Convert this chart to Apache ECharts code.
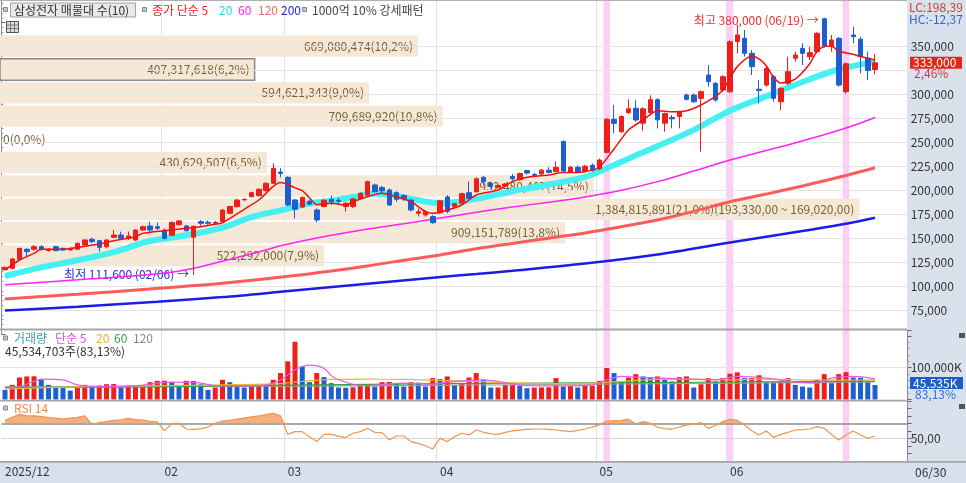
<!DOCTYPE html>
<html>
<head>
<meta charset="utf-8">
<title>삼성전자 매물대</title>
<script src="https://cdn.jsdelivr.net/npm/echarts@6.0.0/dist/echarts.min.js"></script>
<style>
html,body{margin:0;padding:0;background:#fff;}
#chart{width:966px;height:483px;}
</style>
</head>
<body>
<div id="chart"></div>
<script>
// ---------------- data ----------------
const dates = ['12/30',
'01/02','01/05','01/06','01/07','01/08','01/09','01/12','01/13','01/14','01/15','01/16','01/19','01/20','01/21','01/22','01/23','01/26','01/27','01/28','01/29','01/30',
'02/02','02/03','02/04','02/05','02/06','02/09','02/10','02/11','02/12','02/13','02/19','02/20','02/23','02/24','02/25','02/26','02/27',
'03/03','03/04','03/05','03/06','03/09','03/10','03/11','03/12','03/13','03/16','03/17','03/18','03/19','03/20','03/23','03/24','03/25','03/26','03/27','03/30','03/31',
'04/01','04/02','04/03','04/06','04/07','04/08','04/09','04/10','04/13','04/14','04/15','04/16','04/17','04/20','04/21','04/22','04/23','04/24','04/27','04/28','04/29','04/30',
'05/04','05/06','05/07','05/08','05/11','05/12','05/13','05/14','05/15','05/18','05/19','05/20','05/21','05/22','05/26','05/27','05/28','05/29',
'06/01','06/02','06/04','06/05','06/08','06/09','06/10','06/11','06/12','06/15','06/16','06/17','06/18','06/19','06/22','06/23','06/24','06/25','06/26','06/29','06/30'];

const openP = [117000,118500,127900,138400,138400,141100,137000,141100,139400,137700,
138400,142900,148800,147400,141100,150900,153300,149900,148100,158500,
162700,162000,158500,153000,164000,162700,151000,167200,166600,165500,
167200,176000,182900,190000,193300,194400,199600,207200,219000,213500,
189800,182500,188500,179500,183000,190500,189500,183000,183000,191500,
195000,205500,203000,200300,197500,194400,189800,176000,174200,172500,
176500,193000,183000,186500,197500,198500,213500,207000,203000,204500,
214500,211000,220500,216500,217000,221000,219500,251000,219000,224000,
219500,226000,222500,239500,274000,261000,281000,285500,270000,281000,
294500,270000,276000,277000,299400,299400,295900,320300,311600,304600,
302900,355000,358500,342900,305500,309800,318500,292400,311600,337700,
348100,339400,344600,379000,350500,358500,303000,362000,357500,337700,
326000];
const closeP = [119500,128300,139400,136000,141100,138400,138400,137000,137700,139400,
144600,148100,146400,140400,148100,153300,149900,152300,158500,162000,
158500,160300,149800,166500,168000,157800,162500,165500,165500,166500,
179400,183000,189800,190500,197500,201000,207200,222900,217500,184600,
180100,192500,185500,169000,189500,188000,188500,186500,191000,196800,
209000,198500,199500,184600,190500,191600,179400,177700,177700,166200,
189000,178000,186000,196500,191500,212000,209000,204000,205000,206500,
212000,217500,218000,215500,221000,218500,224000,220000,224000,219500,
225000,221000,231500,274000,269800,277000,285000,273300,285000,294500,
273500,280000,274500,282000,294900,292400,302900,313300,294200,318500,
355000,362000,342900,329000,304000,327200,295900,306300,323700,341100,
342900,343600,363700,350500,356800,309800,332000,360300,339400,325000,
333000];
const lowP = [116500,117500,127000,130700,137000,137000,136000,136300,136500,136800,
137500,142000,144600,136000,139400,149900,148100,148100,147000,157500,
156800,158500,148500,152000,163000,156800,111600,163000,164000,164500,
166500,175000,182000,189000,192500,193500,198500,206500,213500,183500,
170700,181500,184500,166500,182000,184600,186000,177700,181500,190500,
194000,197500,196500,183500,188000,189000,178000,172500,172500,165000,
175500,176000,182000,185500,190500,197500,205000,202000,202000,203500,
210000,210000,216500,213500,216000,217500,218500,218500,218000,218500,
218500,219500,221000,238500,259400,260000,279500,271500,262000,279000,
264500,261000,264600,264600,293500,291000,240300,308100,292500,303000,
301500,342900,339400,320300,290700,308000,292400,283700,309800,334200,
330700,335900,343000,349000,344600,308000,300500,353300,322000,315000,
321000];
const highP = [120500,129500,140000,139400,142900,142900,139400,142000,140000,140200,
145500,149000,150500,148100,148800,158500,156800,156800,159500,163000,
167200,166200,160000,167500,169000,163800,163000,169000,168500,168000,
180500,184000,191000,191500,198500,202000,208500,228100,223000,214500,
191000,193500,190000,181000,191000,194400,192000,187500,192000,197800,
210000,207000,204500,202000,199000,196000,191000,181000,179000,174000,
190000,195000,187000,197500,209000,213500,215000,209000,206000,207500,
217000,218500,221500,218000,222000,224000,230000,252000,225500,226000,
226500,228000,233000,275500,289000,278000,295000,294000,286500,299000,
296000,281000,278500,283000,301000,301000,304000,330700,313000,320000,
356500,372400,367200,346300,315000,329000,320300,307500,339400,344600,
353300,349800,365000,380000,362000,360000,333500,370700,360300,344600,
342000];

// volume in thousands of shares (K)
const volumeK = [30200,46000,69300,72500,73000,62000,46000,38000,37500,28000,
37600,46000,40800,44000,48100,48500,37600,44000,44500,45000,
54500,58700,59000,54500,43900,58700,58000,48100,30200,37600,
61900,54500,43900,37600,43900,46000,45000,61900,83100,120100,
181500,104300,54500,83100,70400,51300,37600,37000,38500,48100,
48500,40800,54500,55000,51300,40800,54500,53000,40800,67200,
64000,72500,46000,51300,69300,83100,61900,37600,38000,46000,
46500,43900,35600,37600,38000,38500,67200,40800,42900,37600,
42900,43500,58700,99000,83100,54500,69300,79700,72500,69300,
72500,67200,56600,70400,72500,37600,48100,67200,56600,67200,
81000,85300,67200,67500,76100,54500,54000,54500,67200,46000,
40800,37600,61900,79700,51300,79700,86000,69300,68500,54776,
45534.703];

const rsi14 = [74,78,82,80,80,79,77.5,77,75.5,77,
78,80,68.7,71,72.2,74,74.5,76.5,75,74.4,
72.5,72,59.8,69.6,70,62.4,62,62.5,65,70,
73,74,75.5,77,78.5,80,81.5,83.3,80,55,
58.9,58.9,52,45.6,55.3,55.3,53,51,56.7,58.9,
63.3,58,57.5,47.8,53.1,53.1,45.6,43.3,40,35.8,
50,45.6,52,56.7,54.5,61.1,58,56,55.3,58,
59.8,61,62,62.4,62.4,62,61.1,60,58.9,60.5,
62.4,65,67.8,73.1,73.5,74,75.3,69.1,72.2,70,
64.7,63,62,65,67.8,69,70.9,63.3,67,72.2,
75.3,74,67.8,60,54.5,59.8,51.3,55.3,58,61.1,
61.5,62.4,65.5,63.3,55,47.8,54.5,59.8,54.5,50,53.1];

// moving-average lines: [day index, value]
const ma5Pts = [[0,116800],[2,127200],[4,134200],[5,138400],[8,138400],[10,140500],[13,143900],[15,147400],[18,151500],[19,155000],[22,157800],[25,160300],[27,162000],[29,164500],[30,166000],[33,180100],[35,189800],[37,204000],[38,208000],[39,206000],[40,202500],[41,199500],[42,192000],[43,185000],[45,186400],[47,184600],[48,188100],[50,193300],[52,196800],[54,193300],[56,188100],[58,177700],[59,175900],[60,177000],[63,184600],[65,195000],[68,200300],[70,209000],[72,213500],[75,215900],[77,218400],[79,218400],[81,221000],[82,224000],[84,243000],[86,262900],[88,273300],[90,283000],[92,282000],[94,283000],[96,289000],[98,298000],[99,304300],[100,317000],[101,329000],[103,340000],[104,337000],[105,330000],[106,318000],[107,312000],[109,316000],[111,332000],[112,345000],[113,350000],[114,350500],[115,345000],[117,342000],[118,339500],[120,336000]];
const ma20Pts = [[0,110500],[5,119500],[10,127000],[15,135500],[20,147000],[25,153000],[30,161000],[34,172000],[38,179000],[42,186000],[45,189000],[48,193000],[51,196500],[54,194000],[57,189500],[60,186500],[65,191000],[70,199000],[75,206000],[80,214000],[83,223000],[86,233000],[90,246000],[95,263000],[100,283000],[105,298000],[110,313000],[115,326000],[120,334000]];
const ma60Pts = [[0,101500],[10,106500],[20,112000],[25,117000],[30,126000],[35,135500],[38,142000],[45,153000],[50,159500],[55,165000],[60,171000],[65,177000],[70,182500],[75,187500],[80,193000],[85,200000],[90,209000],[95,220000],[100,231500],[105,241500],[110,251500],[116,265000],[120,276000]];
const ma120Pts = [[0,86500],[10,91500],[20,97000],[30,103000],[40,111000],[50,121000],[55,127000],[60,132500],[65,139000],[70,144500],[75,150000],[80,155500],[85,162000],[90,169000],[95,178000],[100,188000],[105,196000],[110,204500],[115,213500],[120,223500]];
const ma200Pts = [[0,74400],[10,78500],[21,83700],[30,88500],[38,94000],[50,102500],[59,108800],[65,112600],[70,116000],[80,123500],[90,133000],[100,145500],[110,157500],[116,165000],[120,171300]];

const volMa5Pts = [[0,36000],[2,41000],[4,56600],[5,64000],[8,61900],[10,46000],[13,40800],[18,43000],[21,51300],[23,54500],[27,51300],[29,43000],[32,43000],[36,46000],[38,61900],[40,93400],[42,108000],[44,98000],[45,75000],[46,62000],[48,48000],[50,44000],[55,51300],[59,48000],[61,54500],[66,61900],[68,56600],[72,43900],[77,43000],[81,46000],[83,61900],[85,72500],[88,69300],[93,65000],[98,61900],[101,72500],[105,67200],[109,54500],[112,51300],[114,67200],[117,72500],[120,65000]];
const volMa20Pts = [[0,33000],[10,40000],[20,43000],[30,46000],[38,50000],[40,55000],[45,63000],[50,64000],[55,63000],[60,60000],[65,57000],[70,52000],[75,50000],[80,51000],[85,57000],[90,63000],[95,64000],[100,62000],[105,64000],[110,62000],[115,61000],[120,62000]];
const volMa60Pts = [[0,38000],[20,40000],[40,45000],[60,50000],[80,52000],[100,55000],[120,58000]];
const volMa120Pts = [[0,40000],[40,42000],[80,48000],[120,55000]];

// volume profile (매물대) rows, top to bottom
const profileHigh = [363500,339190,314880,290570,266260,241950,217640,193330,169020,144710];
const profileLow  = [339190,314880,290570,266260,241950,217640,193330,169020,144710,120400];
const profileAmount = [669080474,407317618,594621343,709689920,0,430629507,952480407,1384815891,909151789,522292000];
const profilePct = [10.2,6.2,9.0,10.8,0.0,6.5,14.5,21.0,13.8,7.9];

// ticks / labels
const priceTicks = [75000,100000,125000,150000,175000,200000,225000,250000,275000,300000,325000,350000];
const monthTickIdx = [22,39,60,82,100];
const axisLabelIdx = [0,22,39,60,82,100];
const axisLabelText = ['2025/12','02','03','04','05','06'];
const strongDays = ['05/06','06/01','06/24'];   // 1000억 10% 강세패턴
const lcText = 'LC:198,39';
const hcText = 'HC:-12,37';

// ---------------- build ----------------
const FONT = '"Noto Sans CJK KR","Noto Sans",sans-serif';
const UP = '#ee1f1b', DOWN = '#1d5fd2';
const N = dates.length;
const cats = dates.concat([' ', '  ', '   ', '    ']);
const fmt = v => Math.round(v).toLocaleString('en-US');
const dec = (v, d) => v.toFixed(d).replace('.', ',');

const lastClose = closeP[N - 1], prevClose = closeP[N - 2];
const chgPct = (lastClose / prevClose - 1) * 100;
const lastVol = volumeK[N - 1], prevVol = volumeK[N - 2];
const volRatio = lastVol / prevVol * 100;
let iMax = 0, iMin = 0;
highP.forEach((v, i) => { if (v > highP[iMax]) iMax = i; });
lowP.forEach((v, i) => { if (v < lowP[iMin]) iMin = i; });
let iPoc = 0; profilePct.forEach((p, k) => { if (p > profilePct[iPoc]) iPoc = k; });
const iCur = profileHigh.findIndex((h, k) => lastClose <= h && lastClose > profileLow[k]);

const GL = 1.375, GW = 906.25;
const gridBase = {left: GL, width: GW, outerBoundsMode: 'none', containLabel: false};
const RSI_MIN = 20, RSI_MAX = 100, RSI_TOP = 400.8, RSI_H = 60, OB = 70;
const obOff = (RSI_MAX - OB) / (RSI_MAX - RSI_MIN);

function bandRender(params, api) {
  const c = api.coord([api.value(0), api.value(1)]);
  const w = api.size([1, 0])[0];
  const cs = params.coordSys;
  return {type: 'rect', shape: {x: c[0] - w * 0.45, y: cs.y, width: w * 0.9, height: cs.height},
          style: {fill: '#fccff5'}};
}
function catAxis(grid, showLabel) {
  return {
    type: 'category', gridIndex: grid, data: cats, boundaryGap: true,
    axisLine: {show: false}, axisTick: {show: false},
    axisLabel: showLabel ? {
      show: true, interval: (i) => axisLabelIdx.includes(i),
      formatter: (v, i) => { const k = axisLabelIdx.indexOf(i); return k >= 0 ? axisLabelText[k] : ''; },
      align: 'left', color: '#333', fontSize: 12, fontFamily: FONT, margin: 5
    } : {show: false},
    splitLine: {show: true, interval: (i) => monthTickIdx.includes(i), lineStyle: {color: '#e2e2e2', width: 1}}
  };
}
const axisStyle = {
  position: 'right',
  axisLine: {show: true, lineStyle: {color: '#8c8c8c'}},
  axisTick: {show: true, length: 4, lineStyle: {color: '#666'}},
  minorTick: {show: true, splitNumber: 5, length: 2, lineStyle: {color: '#999'}},
  splitLine: {show: false}
};
function maLine(pts, color, width, z, smooth) {
  return {type: 'line', xAxisIndex: 0, yAxisIndex: 0, data: pts, symbol: 'none', smooth: smooth,
          silent: true, zlevel: 1, z: z, lineStyle: {color: color, width: width}};
}
function volLine(pts, color) {
  return {type: 'line', xAxisIndex: 2, yAxisIndex: 1, data: pts, symbol: 'none', smooth: 0.3,
          silent: true, zlevel: 1, z: 3, lineStyle: {color: color, width: 1.2}};
}

const series = [
  // 0 pink bands (main)
  {type: 'custom', xAxisIndex: 0, yAxisIndex: 0, zlevel: 0, z: 1, silent: true, renderItem: bandRender,
   encode: {x: 0, y: 1}, data: strongDays.map(d => [d, 100000])},
  // 1 horizontal grid lines (main)
  {type: 'line', xAxisIndex: 0, yAxisIndex: 0, data: [], zlevel: 0, z: 0, silent: true,
   markLine: {silent: true, symbol: 'none', animation: false, label: {show: false},
              lineStyle: {color: '#e3e3e3', width: 1, type: 'solid'},
              data: priceTicks.map(v => ({yAxis: v}))}},
  // 2 volume profile
  {type: 'custom', xAxisIndex: 1, yAxisIndex: 0, zlevel: 0, z: 2, silent: true,
   data: profilePct.map((p, k) => [p, profileHigh[k], profileLow[k]]),
   encode: {x: 0, y: [1, 2]},
   renderItem: function (params, api) {
     const k = params.dataIndex;
     const tl = api.coord([0, profileHigh[k]]);
     const br = api.coord([profilePct[k], profileLow[k]]);
     const x0 = params.coordSys.x - GL;
     const y0 = tl[1] + 2, h = br[1] - tl[1] - 2;
     const kids = [];
     let label = fmt(profileAmount[k]) + '(' + dec(profilePct[k], 1) + '%)';
     if (k === iPoc) label += '(' + fmt(profileHigh[k]) + ',00 ~ ' + fmt(profileLow[k]) + ',00)';
     if (profilePct[k] > 0) {
       kids.push({type: 'rect', shape: {x: x0, y: y0, width: br[0] - x0, height: h},
                  style: {fill: '#f6e8d6', stroke: k === iCur ? '#8a8a8a' : null, lineWidth: 1.5}});
       kids.push({type: 'text', x: br[0] - 5, y: y0 + h / 2,
                  style: {text: label, fill: '#78632f', font: '12px ' + FONT, align: 'right', verticalAlign: 'middle'}});
     } else {
       kids.push({type: 'text', x: x0 + 3, y: y0 + h / 2,
                  style: {text: label, fill: '#78632f', font: '12px ' + FONT, align: 'left', verticalAlign: 'middle'}});
     }
     return {type: 'group', children: kids};
   }},
  // 3-6 long moving averages
  maLine(ma200Pts, '#1c1ce6', 2.5, 3, 0.3),
  maLine(ma120Pts, '#ff5b5b', 3, 3, 0.3),
  maLine(ma60Pts, '#ff22f2', 1.5, 3, 0.4),
  maLine(ma20Pts, '#44f0f2', 6, 3, 0.4),
  // 7 candles
  {type: 'candlestick', xAxisIndex: 0, yAxisIndex: 0, zlevel: 1, z: 4, barWidth: 5, silent: true,
   data: openP.map((o, i) => [o, closeP[i], lowP[i], highP[i]]),
   itemStyle: {color: UP, color0: DOWN, borderColor: UP, borderColor0: DOWN, borderWidth: 1},
   markPoint: {symbol: 'circle', symbolSize: 1, silent: true, animation: false,
     itemStyle: {color: 'rgba(0,0,0,0)'},
     data: [
       {coord: [dates[iMax], highP[iMax]],
        label: {show: true, position: 'left', distance: 5, offset: [0, 3], color: '#ee3030', fontSize: 12, fontFamily: FONT,
                formatter: '최고 ' + fmt(highP[iMax]) + ' (' + dates[iMax] + ') →'}},
       {coord: [dates[iMin], lowP[iMin]],
        label: {show: true, position: 'left', distance: 4, offset: [0, -1], color: '#2530d8', fontSize: 12, fontFamily: FONT,
                formatter: '최저 ' + fmt(lowP[iMin]) + ' (' + dates[iMin] + ') →'}}
     ]}},
  // 8 MA5
  maLine(ma5Pts, '#ee1111', 1.5, 5, 0.25),
  // 9 pink bands (volume)
  {type: 'custom', xAxisIndex: 2, yAxisIndex: 1, zlevel: 0, z: 1, silent: true, renderItem: bandRender,
   encode: {x: 0, y: 1}, data: strongDays.map(d => [d, 10000])},
  // 10 volume grid line
  {type: 'line', xAxisIndex: 2, yAxisIndex: 1, data: [], zlevel: 0, z: 0, silent: true,
   markLine: {silent: true, symbol: 'none', animation: false, label: {show: false},
              lineStyle: {color: '#e3e3e3', width: 1, type: 'solid'}, data: [{yAxis: 100000}]}},
  // 11 volume bars
  {type: 'bar', xAxisIndex: 2, yAxisIndex: 1, zlevel: 1, z: 2, barWidth: 5, silent: true,
   data: volumeK.map((v, i) => ({value: v, itemStyle: {color: (i > 0 && v > volumeK[i - 1]) ? UP : DOWN}}))},
  // 12-15 volume MAs
  volLine(volMa120Pts, '#a0a0a0'),
  volLine(volMa60Pts, '#2ea24a'),
  volLine(volMa20Pts, '#f2b236'),
  volLine(volMa5Pts, '#ea5be6'),
  // 16 pink bands (rsi)
  {type: 'custom', xAxisIndex: 3, yAxisIndex: 2, zlevel: 0, z: 1, silent: true, renderItem: bandRender,
   encode: {x: 0, y: 1}, data: strongDays.map(d => [d, 60])},
  // 17 rsi reference lines
  {type: 'line', xAxisIndex: 3, yAxisIndex: 2, data: [], zlevel: 0, z: 0, silent: true,
   markLine: {silent: true, symbol: 'none', animation: false, label: {show: false},
              data: [{yAxis: OB, lineStyle: {color: '#8e8e8e', width: 1.5, type: 'solid'}},
                     {yAxis: 50, lineStyle: {color: '#d6d6d6', width: 1, type: 'solid'}}]}},
  // 18 rsi overbought fill (only the part above 70 is coloured)
  {type: 'line', xAxisIndex: 3, yAxisIndex: 2, data: rsi14, zlevel: 1, z: 2, symbol: 'none', silent: true,
   lineStyle: {width: 0, opacity: 0},
   areaStyle: {origin: 'start', opacity: 1, color: {type: 'linear', x: 0, y: RSI_TOP, x2: 0, y2: RSI_TOP + RSI_H, global: true,
     colorStops: [{offset: 0, color: '#f5b07e'}, {offset: obOff, color: '#f5b07e'},
                  {offset: obOff + 0.001, color: 'rgba(245,176,126,0)'}, {offset: 1, color: 'rgba(245,176,126,0)'}]}}},
  // 19 rsi line
  {type: 'line', xAxisIndex: 3, yAxisIndex: 2, data: rsi14, zlevel: 1, z: 3, symbol: 'none', silent: true,
   lineStyle: {color: '#f39350', width: 1.2}}
];

function t(x, y, text, fill, extra) {
  return Object.assign({type: 'text', zlevel: 2, z: 60, x: x, y: y,
    style: {text: text, fill: fill, font: '12px ' + FONT, verticalAlign: 'middle'}}, extra || {});
}
function icon(x, y) {
  return {type: 'rect', zlevel: 2, z: 60, shape: {x: x, y: y, width: 4, height: 4},
          style: {fill: '#c4c4c4', stroke: '#8a8a8a', lineWidth: 1}};
}
function bar(x, y, w, h, fill) {
  return {type: 'rect', zlevel: 2, z: 55, shape: {x: x, y: y, width: w, height: h}, style: {fill: fill}};
}
const graphic = [
  {type: 'rect', zlevel: 0, z: -10, shape: {x: 907, y: 0, width: 59, height: 483}, style: {fill: '#d9e2ec'}},
  {type: 'rect', zlevel: 0, z: -10, shape: {x: 0, y: 462, width: 966, height: 21}, style: {fill: '#d6e0ee'}},
  bar(0, 0, 907, 1, '#b0b0b0'),
  bar(0, 328.6, 907, 2, '#a6a6a6'),
  bar(0, 399.8, 907, 1.8, '#a6a6a6'),
  bar(0, 460.9, 966, 1.8, '#a6a6a6'),
  // main legend
  icon(3.5, 7.5),
  {type: 'rect', zlevel: 2, z: 58, shape: {x: 10.5, y: 3, width: 125, height: 14}, style: {fill: '#e9e9e9', stroke: '#a3a3a3', lineWidth: 1}},
  t(14, 10.5, '삼성전자 매물대 수(10)', '#333'),
  icon(142.5, 7.5),
  t(152, 10.5, '종가 단순 5', '#ee2222'),
  t(219, 10.5, '20', '#20dcea'),
  t(238, 10.5, '60', '#ff22f2'),
  t(258, 10.5, '120', '#ff6666'),
  t(281, 10.5, '200', '#2424dd'),
  icon(302.5, 7.5),
  t(312, 10.5, '1000억 10% 강세패턴', '#444'),
  // grid icon
  {type: 'rect', zlevel: 2, z: 58, shape: {x: 6.5, y: 21.5, width: 12, height: 11}, style: {fill: '#dcdcdc', stroke: '#555', lineWidth: 1}},
  {type: 'polyline', zlevel: 2, z: 59, shape: {points: [[7, 25], [18, 25]]}, style: {stroke: '#777', lineWidth: 1}},
  {type: 'polyline', zlevel: 2, z: 59, shape: {points: [[7, 28.5], [18, 28.5]]}, style: {stroke: '#777', lineWidth: 1}},
  {type: 'polyline', zlevel: 2, z: 59, shape: {points: [[10.5, 22], [10.5, 32]]}, style: {stroke: '#777', lineWidth: 1}},
  {type: 'polyline', zlevel: 2, z: 59, shape: {points: [[14.5, 22], [14.5, 32]]}, style: {stroke: '#777', lineWidth: 1}},
  // right top texts
  t(909, 7.5, lcText, '#e03434'),
  t(909, 19.5, hcText, '#3565d0'),
  // volume legend
  icon(3.5, 336),
  t(14, 338.5, '거래량', '#36a3a3'),
  t(55, 338.5, '단순 5', '#e84ee4'),
  t(96, 338.5, '20', '#f0ae2a'),
  t(114, 338.5, '60', '#2e9e4a'),
  t(133, 338.5, '120', '#888'),
  t(5, 351, fmt(lastVol * 1000) + '주(' + dec(volRatio, 2) + '%)', '#333'),
  {type: 'rect', zlevel: 2, z: 60, shape: {x: 959, y: 333, width: 6, height: 5}, style: {fill: '#555'}},
  // rsi legend
  icon(3.5, 406),
  t(14, 408.5, 'RSI 14', '#f3894a'),
  {type: 'rect', zlevel: 2, z: 60, shape: {x: 959, y: 404, width: 6, height: 5}, style: {fill: '#555'}},
  // last date
  t(915, 472, dates[N - 1], '#333')
];

const option = {
  animation: false,
  backgroundColor: '#ffffff',
  textStyle: {fontFamily: FONT},
  grid: [
    Object.assign({top: -1.4, height: 335.4}, gridBase),
    Object.assign({top: 330.5, height: 69}, gridBase),
    Object.assign({top: RSI_TOP, height: RSI_H}, gridBase)
  ],
  xAxis: [
    catAxis(0, false),
    {type: 'value', gridIndex: 0, min: 0, max: GW / 40.85, position: 'top', show: false},
    catAxis(1, false),
    catAxis(2, true)
  ],
  yAxis: [
    Object.assign({type: 'value', gridIndex: 0, min: 50000, max: 400000, interval: 25000,
      axisLabel: {show: true, color: '#333', fontSize: 12, fontFamily: FONT, margin: 3,
        formatter: v => (v >= 75000 && v <= 350000 && Math.abs(v - lastClose) > 10000) ? fmt(v) : ''}}, axisStyle),
    Object.assign({type: 'value', gridIndex: 1, min: 0, max: 217000, interval: 100000,
      axisLabel: {show: true, color: '#333', fontSize: 12, fontFamily: FONT, margin: 3,
        formatter: v => v === 100000 ? fmt(v) + 'K' : ''}}, axisStyle),
    Object.assign({type: 'value', gridIndex: 2, min: RSI_MIN, max: RSI_MAX, interval: 10,
      axisLabel: {show: true, color: '#333', fontSize: 12, fontFamily: FONT, margin: 3,
        formatter: v => v === 50 ? dec(v, 2) : ''}}, axisStyle, {minorTick: {show: false}})
  ],
  series: series,
  graphic: graphic
};

const chart = echarts.init(document.getElementById('chart'), null, {renderer: 'canvas'});
chart.setOption(option);

// current price / current volume tags on the right axis, placed through the axes' own scales
const yClose = chart.convertToPixel({yAxisIndex: 0}, lastClose);
const yVol = chart.convertToPixel({yAxisIndex: 1}, lastVol);
const tags = [
  {type: 'rect', zlevel: 2, z: 61, shape: {x: 910, y: yClose - 6, width: 52, height: 12}, style: {fill: '#e3261c'}},
  t(913, yClose, fmt(lastClose), '#ffffff', {z: 62}),
  t(914, yClose + 11, dec(chgPct, 2) + '%', '#e53333'),
  {type: 'rect', zlevel: 2, z: 61, shape: {x: 910, y: yVol - 8, width: 53, height: 12}, style: {fill: '#1d5cc9'}},
  t(913, yVol - 2, fmt(lastVol) + 'K', '#ffffff', {z: 62}),
  t(915, yVol + 9, dec(volRatio, 2) + '%', '#2f6fd6')
];
chart.setOption({graphic: graphic.concat(tags)});
</script>
</body>
</html>
